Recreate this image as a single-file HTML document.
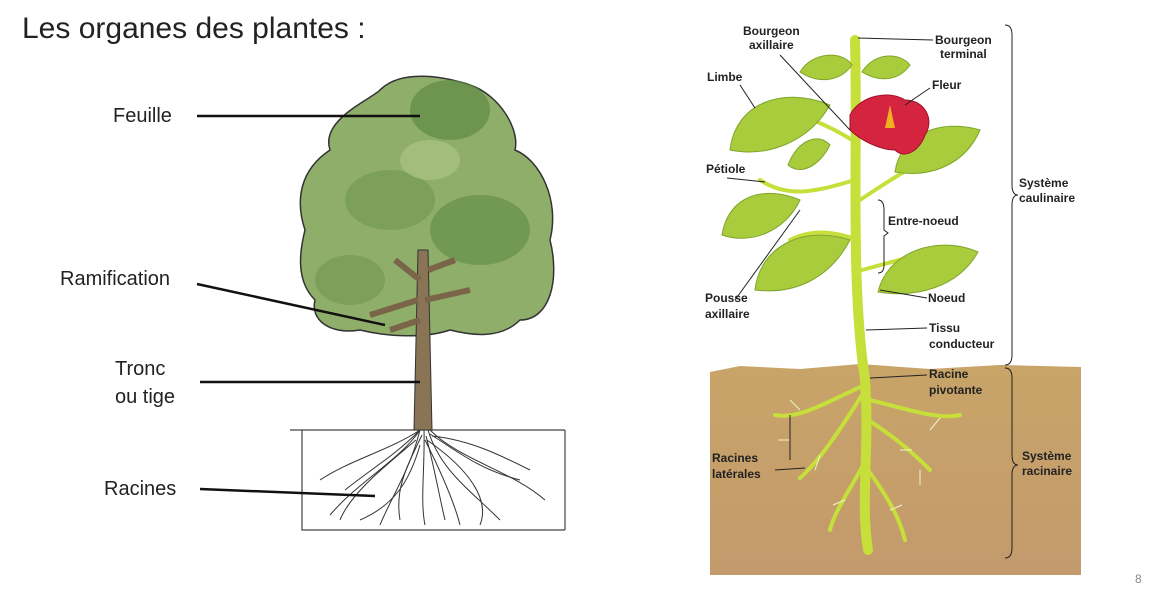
<!DOCTYPE html>
<html><head><meta charset="utf-8"><style>
body{margin:0;width:1162px;height:589px;background:#fff;overflow:hidden;font-family:"Liberation Sans",sans-serif}
</style></head><body>
<svg width="1162" height="589" viewBox="0 0 1162 589" xmlns="http://www.w3.org/2000/svg" font-family="Liberation Sans, sans-serif">
<text x="22" y="38" font-size="30" fill="#222">Les organes des plantes :</text>
<!-- left tree -->
<path d="M290,430 L565,430 M302,430 L302,530 L565,530 M565,430 L565,530" stroke="#444" stroke-width="1.2" fill="none"/>
<path d="M330,150 C320,120 370,100 380,90 C400,70 440,75 470,85 C500,95 520,130 515,150 C540,160 560,200 550,240 C560,280 550,320 520,320 C500,340 470,335 450,330 C420,340 380,335 360,330 C330,335 310,320 315,300 C295,280 300,250 305,230 C295,200 300,170 330,150 Z" fill="#8fae6a" stroke="#333" stroke-width="1.5"/>
<ellipse cx="450" cy="110" rx="40" ry="30" fill="#5f8a44" opacity=".7"/>
<ellipse cx="390" cy="200" rx="45" ry="30" fill="#6f9650" opacity=".6"/>
<ellipse cx="480" cy="230" rx="50" ry="35" fill="#5f8a44" opacity=".6"/>
<ellipse cx="350" cy="280" rx="35" ry="25" fill="#6f9650" opacity=".6"/>
<ellipse cx="430" cy="160" rx="30" ry="20" fill="#a9c384" opacity=".7"/>
<path d="M418,250 L428,250 L432,430 L414,430 Z" fill="#8a7456" stroke="#333"/>
<path d="M418,300 L370,315 M425,300 L470,290 M420,280 L395,260 M428,270 L455,260 M420,320 L390,330" stroke="#7a6548" stroke-width="6" fill="none"/>
<g stroke="#333" stroke-width="1" fill="none">
<path d="M420,430 C400,460 360,480 330,515 M420,430 C410,470 390,500 380,525 M424,430 C425,470 420,500 425,525 M428,430 C440,470 470,490 500,520 M430,430 C460,460 510,470 545,500 M420,430 C390,450 350,460 320,480 M425,440 C445,480 455,505 460,525"/>
<path d="M418,432 C395,455 370,470 345,490 M422,435 C405,470 395,490 400,520 M426,436 C435,470 440,500 445,520 M430,434 C455,450 480,470 520,480 M416,440 C380,470 350,495 340,520 M427,440 C470,470 490,500 480,525 M420,445 C410,480 395,505 360,520 M432,436 C470,440 500,455 530,470"/>
</g>
<g font-size="20" fill="#222">
<text x="113" y="122">Feuille</text>
<text x="60" y="285">Ramification</text>
<text x="115" y="375">Tronc</text>
<text x="115" y="403">ou tige</text>
<text x="104" y="495">Racines</text>
</g>
<g stroke="#111" stroke-width="2.5">
<line x1="197" y1="116" x2="420" y2="116"/>
<line x1="197" y1="284" x2="385" y2="325"/>
<line x1="200" y1="382" x2="420" y2="382"/>
<line x1="200" y1="489" x2="375" y2="496"/>
</g>
<!-- right plant -->
<defs><linearGradient id="s" x1="0" y1="0" x2="0" y2="1"><stop offset="0" stop-color="#c8a468"/><stop offset="1" stop-color="#c39a6c"/></linearGradient></defs>
<path d="M710,372 L740,366 L800,369 L860,364 L930,369 L1000,365 L1081,367 L1081,575 L710,575 Z" fill="url(#s)"/>
<g stroke="#c6df3a" fill="none" stroke-linecap="round">
<path d="M855,40 C858,150 850,280 865,380 C870,450 860,500 868,550" stroke-width="10"/>
<path d="M865,385 C830,400 800,420 775,415 M862,395 C840,430 820,460 800,478 M870,400 C910,410 940,420 960,415 M868,420 C900,440 920,460 930,470 M866,460 C850,490 835,510 830,530 M868,470 C890,500 900,520 905,540" stroke-width="4"/>
<path d="M855,180 C820,190 790,200 760,180 M858,240 C830,230 810,230 790,240 M852,140 C820,120 790,110 760,110 M860,200 C890,180 920,160 950,150 M862,270 C900,260 930,250 960,250" stroke-width="4"/>
</g>
<g stroke="#eef5d0" stroke-width="1" fill="none">
<path d="M800,410 l-10,-10 M790,440 l-12,0 M820,455 l-5,15 M930,430 l10,-12 M900,450 l12,0 M920,470 l0,15 M845,500 l-12,5 M890,510 l12,-5"/>
</g>
<g fill="#a8cc3c" stroke="#7fa52a">
<path d="M730,150 C735,105 780,85 830,105 C810,140 770,158 730,150 Z"/>
<path d="M722,235 C728,195 765,185 800,200 C785,232 750,245 722,235 Z"/>
<path d="M755,290 C760,245 805,225 850,240 C830,278 795,295 755,290 Z"/>
<path d="M878,292 C888,250 940,235 978,252 C958,288 915,298 878,292 Z"/>
<path d="M895,172 C900,135 940,118 980,130 C965,165 930,178 895,172 Z"/>
<path d="M800,72 C812,52 842,50 852,65 C840,82 818,84 800,72 Z"/>
<path d="M862,72 C874,52 900,52 910,65 C898,82 878,82 862,72 Z"/>
<path d="M788,165 C798,140 818,132 830,145 C818,168 800,175 788,165 Z"/>
</g>
<path d="M850,115 C860,95 890,90 905,100 C925,100 935,120 925,135 C920,150 905,160 895,150 C880,150 860,140 850,130 Z" fill="#d4243f" stroke="#a0102a"/>
<path d="M890,105 L895,128 L885,128 Z" fill="#f0b020"/>
<g font-size="12" font-weight="bold" fill="#222">
<text x="743" y="35">Bourgeon</text><text x="749" y="49">axillaire</text>
<text x="935" y="44">Bourgeon</text><text x="940" y="58">terminal</text>
<text x="707" y="81">Limbe</text>
<text x="932" y="89">Fleur</text>
<text x="706" y="173">Pétiole</text>
<text x="1019" y="187">Système</text><text x="1019" y="202">caulinaire</text>
<text x="888" y="225">Entre-noeud</text>
<text x="705" y="302">Pousse</text><text x="705" y="318">axillaire</text>
<text x="928" y="302">Noeud</text>
<text x="929" y="332">Tissu</text><text x="929" y="348">conducteur</text>
<text x="929" y="378">Racine</text><text x="929" y="394">pivotante</text>
<text x="712" y="462">Racines</text><text x="712" y="478">latérales</text>
<text x="1022" y="460">Système</text><text x="1022" y="475">racinaire</text>
</g>
<g stroke="#222" stroke-width="1" fill="none">
<path d="M1005,25 Q1012,25 1012,35 L1012,185 Q1012,195 1018,195 Q1012,195 1012,205 L1012,355 Q1012,365 1005,365"/>
<path d="M1005,368 Q1012,368 1012,378 L1012,455 Q1012,465 1018,465 Q1012,465 1012,475 L1012,548 Q1012,558 1005,558"/>
<path d="M878,200 Q884,200 884,210 L884,230 L888,233 L884,236 L884,265 Q884,273 878,273"/>
<line x1="780" y1="55" x2="850" y2="130"/>
<line x1="933" y1="40" x2="858" y2="38"/>
<line x1="740" y1="85" x2="755" y2="108"/>
<line x1="930" y1="88" x2="905" y2="105"/>
<line x1="727" y1="178" x2="765" y2="182"/>
<line x1="735" y1="300" x2="800" y2="210"/>
<line x1="927" y1="298" x2="880" y2="290"/>
<line x1="927" y1="328" x2="866" y2="330"/>
<line x1="927" y1="375" x2="870" y2="378"/>
<path d="M775,470 L805,468 M790,415 L790,460"/>
</g>
<text x="1135" y="583" font-size="12" fill="#888">8</text>
</svg>
</body></html>
